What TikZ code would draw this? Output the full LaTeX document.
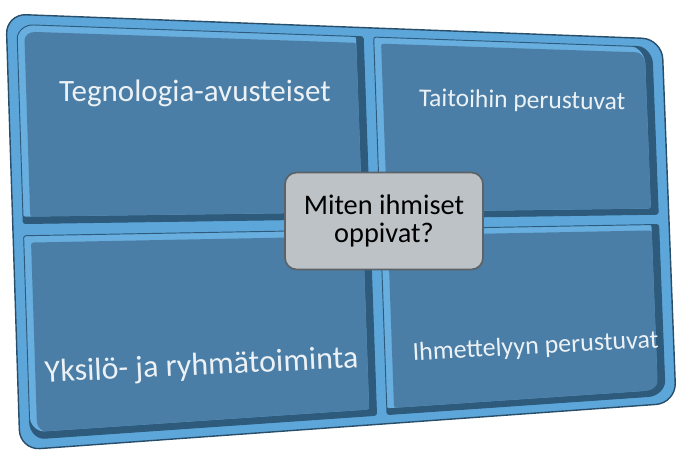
\documentclass[tikz,border=0pt]{standalone}
\usepackage{fontspec}
\setmainfont{Carlito}
\usetikzlibrary{calc}
\definecolor{framebg}{RGB}{92,166,218}
\definecolor{frameedge}{RGB}{40,78,106}
\definecolor{bevellight}{RGB}{104,174,222}
\definecolor{beveldark}{RGB}{46,90,124}
\definecolor{panelface}{RGB}{74,126,166}
\definecolor{textwhite}{RGB}{236,241,245}
\definecolor{boxgray}{RGB}{188,194,198}
\definecolor{boxedge}{RGB}{92,99,104}

% point at (u,v) inside the tilted outline A-B-C-D
\newcommand{\uvpt}[3]{\coordinate (#1) at ($($(A)!#2!(B)$)!#3!($(D)!#2!(C)$)$);}
% panel outline, big round corner first
\newcommand{\quadpath}[5]{($(#1#2)!\crad!(#1#3)$) [rounded corners=2pt]
  -- (#1#3) -- (#1#4) -- (#1#5) -- ($(#1#2)!\crad!(#1#5)$) [sharp corners]
  .. controls ($(#1#2)!\cctl!(#1#5)$) and ($(#1#2)!\cctl!(#1#3)$) .. cycle}
\newcommand{\panel}[9]{%
  \pgfmathsetmacro\ul{#2+0.011}\pgfmathsetmacro\ur{#3-0.011}%
  \pgfmathsetmacro\vt{#4+0.016}\pgfmathsetmacro\vb{#5-0.016}%
  \uvpt{#1-nw}{#2}{#4}\uvpt{#1-ne}{#3}{#4}\uvpt{#1-se}{#3}{#5}\uvpt{#1-sw}{#2}{#5}
  \uvpt{#1l-nw}{#2}{#4}\uvpt{#1l-ne}{\ur}{#4}\uvpt{#1l-se}{\ur}{\vb}\uvpt{#1l-sw}{#2}{\vb}
  \uvpt{#1f-nw}{\ul}{\vt}\uvpt{#1f-ne}{\ur}{\vt}\uvpt{#1f-se}{\ur}{\vb}\uvpt{#1f-sw}{\ul}{\vb}
  \def\crad{0.5cm}\def\cctl{0.22cm}
  \fill[beveldark] \quadpath{#1-}{#6}{#7}{#8}{#9};
  \fill[bevellight] \quadpath{#1l-}{#6}{#7}{#8}{#9};
  \def\crad{0.32cm}\def\cctl{0.14cm}
  \fill[panelface] \quadpath{#1f-}{#6}{#7}{#8}{#9};
  \def\crad{0.5cm}\def\cctl{0.22cm}
  \draw[beveldark,line width=0.8pt] \quadpath{#1-}{#6}{#7}{#8}{#9};
}

\begin{document}
\begin{tikzpicture}[x=0.03cm,y=-0.03cm,
  paneltext/.style={text=textwhite,inner sep=0pt,anchor=base},
  questionbox/.style={fill=boxgray,draw=boxedge,line width=1.5pt,rounded corners=0.35cm,
    minimum width=5.94cm,minimum height=2.91cm,align=center,inner sep=0pt,
    font=\fontsize{24.2}{23.9}\selectfont}]
\useasboundingbox (0,0) rectangle (678,453);

% ===== OUTER FRAME =====
\coordinate (A) at (6,14);
\coordinate (B) at (662,39);
\coordinate (C) at (676,403);
\coordinate (D) at (20,450);
\draw[fill=framebg,draw=frameedge,line width=1.2pt,rounded corners=0.6cm]
  (A) -- (B) -- (C) -- (D) -- cycle;

% ===== FOUR PANELS =====
\panel{tl}{0.016}{0.544}{0.023}{0.481}{nw}{ne}{se}{sw}
\panel{tr}{0.560}{0.984}{0.023}{0.481}{ne}{se}{sw}{nw}
\panel{br}{0.560}{0.984}{0.509}{0.977}{se}{sw}{nw}{ne}
\panel{bl}{0.016}{0.544}{0.509}{0.977}{sw}{nw}{ne}{se}

% ===== LABELS =====
\node[paneltext,font=\fontsize{26.5}{30}\selectfont] (tech) at (195,102) {Tegnologia-avusteiset};
\node[paneltext,font=\fontsize{21.8}{26}\selectfont,rotate=-1] (skill) at (522,108) {Taitoihin perustuvat};
\node[paneltext,font=\fontsize{27.3}{31}\selectfont,rotate=2.7] (group) at (202,375) {Yksilö- ja ryhmätoiminta};
\node[paneltext,font=\fontsize{22.2}{26}\selectfont,rotate=3] (wonder) at (536,354) {Ihmettelyyn perustuvat};

% ===== CENTRE QUESTION =====
\node[questionbox] (question) at (384,221) {Miten ihmiset\\oppivat?};

\end{tikzpicture}
\end{document}
